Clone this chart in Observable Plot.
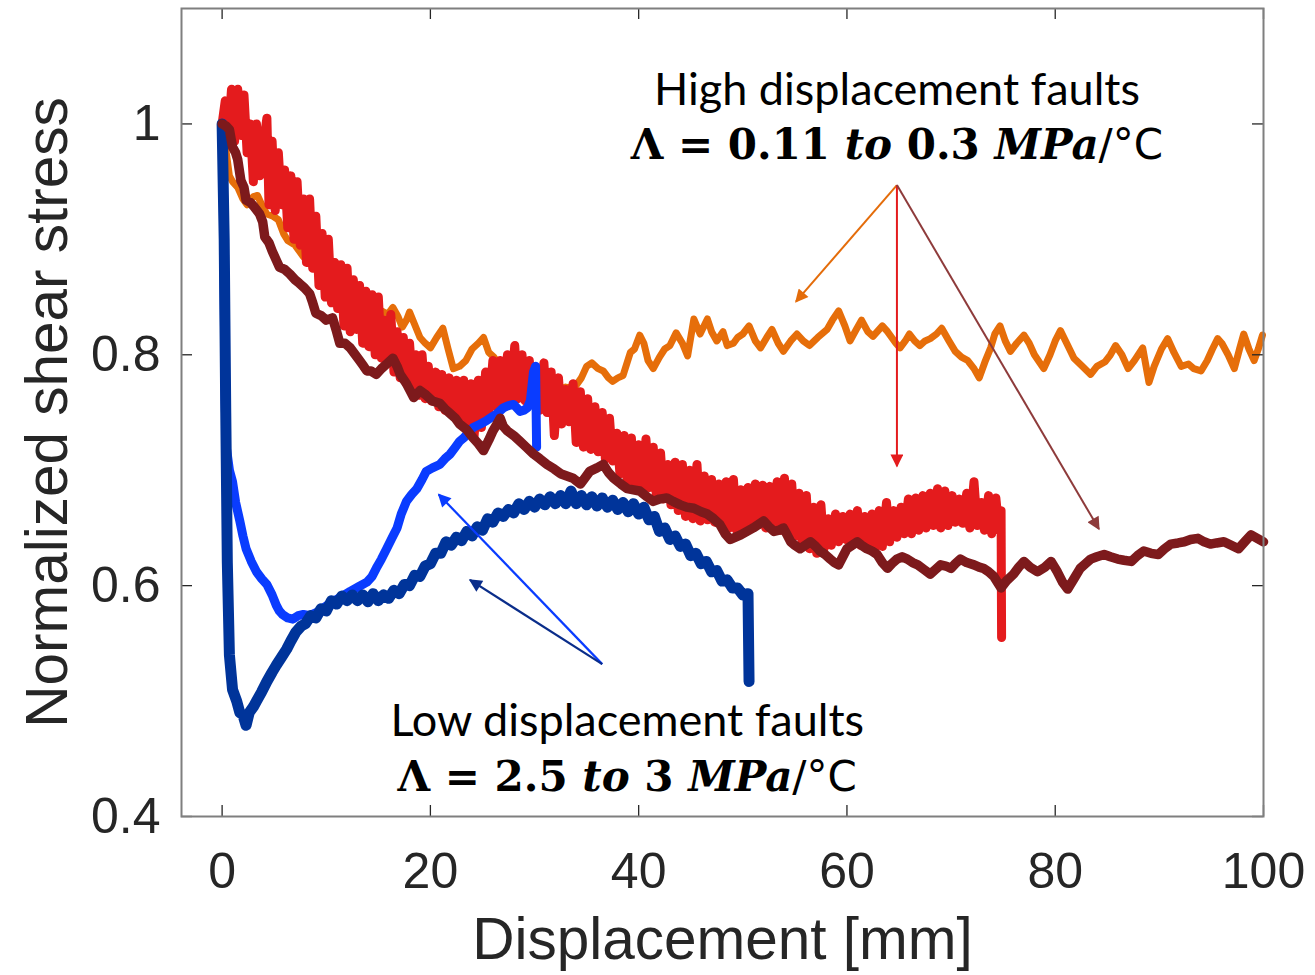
<!DOCTYPE html>
<html>
<head>
<meta charset="utf-8">
<script src="https://cdn.jsdelivr.net/npm/d3@7"></script>
<script src="https://cdn.jsdelivr.net/npm/@observablehq/plot@0.6"></script>
<style>
  html, body { margin: 0; padding: 0; background: #ffffff; }
  #chart svg { display: block; }
</style>
</head>
<body>
<div id="chart"></div>
<script>
// ---------- axis ticks ----------
const xTicks = [0, 20, 40, 60, 80, 100];
const yTicks = [0.4, 0.6, 0.8, 1];

// ---------- series (displacement mm, normalized shear stress) ----------
const orangeSeries = [
[0,1.0],[0.4,0.975],[0.7,0.955],[1.0,0.95],[1.5,0.945],[2.0,0.935],[2.4,0.93],[3.0,0.937],[3.4,0.938],[3.9,0.928],[4.3,0.922],[4.9,0.92],[5.4,0.917],[5.9,0.905],[6.3,0.899],[7.0,0.895],[7.8,0.885],[8.5,0.88],[9.3,0.875],[10.0,0.87],[10.8,0.867],[11.5,0.862],[12.2,0.86],[12.9,0.858],[13.5,0.852],[14.2,0.845],[14.8,0.84],[15.3,0.838],[15.9,0.835],[16.4,0.841],[16.9,0.833],[17.3,0.824],[17.7,0.83],[18.0,0.837],[18.5,0.826],[19.0,0.815],[19.5,0.81],[20.0,0.806],[20.6,0.815],[21.2,0.823],[21.7,0.805],[22.2,0.788],[22.8,0.79],[23.4,0.795],[24.0,0.805],[24.6,0.81],[25.1,0.815],[25.6,0.802],[26.1,0.798],[26.7,0.79],[27.4,0.78],[28.1,0.777],[28.9,0.775],[29.6,0.778],[30.3,0.781],[31.0,0.776],[31.6,0.772],[32.2,0.769],[33.0,0.772],[33.8,0.771],[34.5,0.78],[35.0,0.79],[35.5,0.793],[36.1,0.788],[36.6,0.786],[37.1,0.78],[37.5,0.777],[38.0,0.78],[38.5,0.782],[39.2,0.802],[39.6,0.805],[40.1,0.817],[40.5,0.81],[40.9,0.795],[41.4,0.788],[42.0,0.798],[42.5,0.805],[43.0,0.808],[43.6,0.819],[44.2,0.81],[44.7,0.799],[45.3,0.831],[45.9,0.818],[46.6,0.831],[47.0,0.82],[47.5,0.812],[48.1,0.82],[48.5,0.808],[49.1,0.81],[49.5,0.815],[50.0,0.818],[50.6,0.825],[51.2,0.812],[51.7,0.806],[52.3,0.815],[52.8,0.822],[53.4,0.81],[53.9,0.803],[54.6,0.812],[55.2,0.818],[55.8,0.812],[56.4,0.808],[57.2,0.815],[58.1,0.822],[58.6,0.83],[59.2,0.838],[59.8,0.825],[60.3,0.812],[60.9,0.822],[61.4,0.83],[62.0,0.82],[62.5,0.816],[63.4,0.825],[63.9,0.82],[64.3,0.815],[64.7,0.81],[65.1,0.806],[65.6,0.812],[66.0,0.818],[66.5,0.812],[67.0,0.808],[67.5,0.812],[68.0,0.814],[68.6,0.818],[69.1,0.823],[69.8,0.812],[70.4,0.803],[71.0,0.798],[71.6,0.795],[72.2,0.788],[72.7,0.78],[73.3,0.795],[73.8,0.806],[74.2,0.818],[74.7,0.825],[75.2,0.812],[75.7,0.803],[76.3,0.81],[77.0,0.817],[77.5,0.81],[78.0,0.8],[78.9,0.788],[79.5,0.8],[80.0,0.812],[80.5,0.821],[81.1,0.81],[81.8,0.797],[82.6,0.79],[83.4,0.783],[84.0,0.79],[84.8,0.794],[85.3,0.8],[85.8,0.808],[86.4,0.8],[87.0,0.788],[87.6,0.795],[88.4,0.806],[89.0,0.776],[89.5,0.79],[90.2,0.805],[90.8,0.814],[91.4,0.802],[92.1,0.79],[92.8,0.792],[93.3,0.788],[94.0,0.786],[94.6,0.795],[95.1,0.805],[95.6,0.814],[96.0,0.81],[96.6,0.8],[97.2,0.788],[97.7,0.805],[98.1,0.818],[98.6,0.805],[99.1,0.795],[99.5,0.805],[99.9,0.817]
];

const redSeries = [
[0,1.0],[0.3,1.02],[0.6,0.99],[0.9,1.03],[1.2,0.985],[1.5,1.03],[1.8,0.99],[2.1,1.025],[2.4,0.975],[2.7,1.0],[3.0,0.95],[3.3,1.0],[3.6,0.955],[4.0,0.985],[4.3,1.005],[4.5,0.93],[4.8,0.985],[5.1,0.925],[5.4,0.975],[5.7,0.93],[6.0,0.96],[6.3,0.91],[6.6,0.955],[6.9,0.9],[7.2,0.95],[7.5,0.895],[7.8,0.935],[8.1,0.88],[8.4,0.935],[8.7,0.875],[9.0,0.92],[9.3,0.86],[9.6,0.905],[9.9,0.85],[10.2,0.9],[10.5,0.845],[10.8,0.88],[11.1,0.84],[11.4,0.878],[11.7,0.825],[12.0,0.875],[12.3,0.82],[12.6,0.865],[12.9,0.822],[13.2,0.86],[13.5,0.81],[13.8,0.855],[14.1,0.807],[14.4,0.852],[14.7,0.8],[15.0,0.85],[15.3,0.797],[15.6,0.83],[15.9,0.795],[16.2,0.835],[16.5,0.785],[16.8,0.82],[17.1,0.78],[17.4,0.815],[17.7,0.775],[18.0,0.81],[18.3,0.772],[18.6,0.8],[18.9,0.765],[19.2,0.8],[19.5,0.762],[19.8,0.79],[20.1,0.76],[20.5,0.785],[20.8,0.755],[21.1,0.783],[21.4,0.752],[21.8,0.78],[22.1,0.748],[22.5,0.778],[22.8,0.742],[23.2,0.778],[23.5,0.735],[23.9,0.775],[24.2,0.73],[24.6,0.778],[24.9,0.737],[25.3,0.785],[25.6,0.75],[26.0,0.795],[26.3,0.755],[26.7,0.795],[27.0,0.758],[27.4,0.8],[27.7,0.76],[28.1,0.808],[28.4,0.762],[28.8,0.8],[29.1,0.76],[29.5,0.795],[29.8,0.757],[30.2,0.787],[30.5,0.752],[30.9,0.793],[31.2,0.75],[31.6,0.785],[31.9,0.73],[32.3,0.78],[32.6,0.74],[33.0,0.77],[33.3,0.742],[33.7,0.775],[34.0,0.724],[34.4,0.768],[34.7,0.72],[35.1,0.762],[35.4,0.718],[35.8,0.755],[36.1,0.716],[36.5,0.75],[36.8,0.71],[37.2,0.745],[37.5,0.708],[37.9,0.732],[38.2,0.697],[38.6,0.73],[38.9,0.69],[39.3,0.728],[39.6,0.685],[40.0,0.722],[40.3,0.683],[40.7,0.727],[41.0,0.685],[41.4,0.72],[41.7,0.677],[42.1,0.715],[42.4,0.675],[42.8,0.705],[43.1,0.67],[43.5,0.707],[43.8,0.665],[44.2,0.705],[44.5,0.66],[44.9,0.7],[45.2,0.658],[45.6,0.705],[45.9,0.656],[46.3,0.695],[46.6,0.657],[47.0,0.692],[47.3,0.655],[47.7,0.688],[48.0,0.652],[48.4,0.69],[48.7,0.65],[49.1,0.692],[49.4,0.648],[49.8,0.683],[50.1,0.65],[50.5,0.685],[50.8,0.652],[51.2,0.688],[51.5,0.653],[51.9,0.687],[52.2,0.65],[52.6,0.686],[52.9,0.648],[53.3,0.69],[53.6,0.648],[54.0,0.693],[54.3,0.645],[54.7,0.688],[55.0,0.643],[55.4,0.68],[55.7,0.635],[56.1,0.678],[56.4,0.632],[56.8,0.668],[57.1,0.628],[57.5,0.67],[57.8,0.632],[58.2,0.658],[58.5,0.635],[58.9,0.662],[59.2,0.638],[59.6,0.66],[59.9,0.64],[60.3,0.662],[60.6,0.636],[61.0,0.665],[61.3,0.635],[61.7,0.66],[62.0,0.633],[62.4,0.662],[62.7,0.632],[63.1,0.665],[63.4,0.634],[63.8,0.672],[64.1,0.638],[64.5,0.665],[64.8,0.642],[65.2,0.668],[65.5,0.645],[65.9,0.675],[66.2,0.645],[66.6,0.676],[66.9,0.648],[67.3,0.678],[67.6,0.65],[68.0,0.68],[68.3,0.652],[68.7,0.684],[69.0,0.65],[69.4,0.682],[69.7,0.652],[70.1,0.678],[70.4,0.655],[70.8,0.675],[71.1,0.654],[71.5,0.68],[71.8,0.65],[72.2,0.69],[72.5,0.652],[72.9,0.672],[73.2,0.648],[73.6,0.678],[73.9,0.645],[74.3,0.676],[74.6,0.648],[74.8,0.665],[74.85,0.555]
];

const brownSeries = [
[0,1.0],[0.4,0.998],[0.7,0.995],[1.0,0.98],[1.3,0.975],[1.5,0.969],[1.8,0.951],[2.1,0.945],[2.3,0.934],[2.7,0.932],[3.1,0.928],[3.6,0.922],[3.9,0.915],[4.1,0.902],[4.5,0.897],[4.8,0.89],[5.2,0.882],[5.5,0.876],[6.0,0.874],[6.5,0.87],[7.0,0.865],[7.4,0.862],[7.9,0.858],[8.4,0.853],[8.7,0.845],[9.0,0.836],[9.5,0.834],[10.0,0.83],[10.6,0.832],[11.0,0.82],[11.3,0.81],[11.8,0.81],[12.3,0.806],[12.8,0.8],[13.2,0.795],[13.6,0.79],[13.9,0.786],[14.3,0.786],[14.8,0.783],[15.3,0.788],[15.8,0.792],[16.4,0.797],[16.8,0.79],[17.1,0.783],[17.7,0.775],[18.4,0.763],[19.0,0.769],[19.6,0.765],[20.2,0.76],[20.9,0.758],[21.4,0.753],[21.9,0.749],[22.4,0.745],[22.8,0.74],[23.5,0.735],[24.1,0.728],[24.6,0.723],[25.1,0.717],[25.6,0.726],[26.0,0.734],[26.4,0.74],[26.7,0.745],[27.0,0.738],[27.4,0.734],[28.0,0.73],[28.6,0.725],[29.2,0.72],[29.9,0.714],[30.5,0.71],[31.2,0.705],[31.9,0.701],[32.5,0.697],[33.1,0.695],[33.7,0.693],[34.4,0.688],[34.9,0.694],[35.3,0.699],[36.0,0.702],[36.6,0.705],[37.1,0.698],[37.6,0.693],[38.3,0.688],[38.9,0.684],[39.5,0.683],[40.1,0.682],[40.8,0.677],[41.4,0.673],[42.0,0.675],[42.7,0.676],[43.3,0.673],[44.0,0.67],[44.6,0.668],[45.3,0.667],[46.0,0.664],[46.6,0.662],[47.2,0.658],[47.8,0.653],[48.3,0.645],[48.8,0.64],[49.3,0.642],[49.8,0.644],[50.4,0.647],[51.0,0.65],[51.5,0.653],[52.0,0.656],[52.5,0.651],[53.0,0.647],[53.5,0.648],[53.9,0.65],[54.2,0.645],[54.6,0.638],[55.0,0.635],[55.5,0.632],[56.0,0.635],[56.5,0.638],[57.0,0.634],[57.4,0.63],[57.9,0.627],[58.4,0.623],[58.8,0.62],[59.2,0.618],[59.6,0.625],[60.0,0.632],[60.5,0.635],[61.0,0.638],[61.4,0.635],[61.9,0.632],[62.4,0.63],[62.9,0.627],[63.4,0.62],[63.9,0.615],[64.3,0.619],[64.8,0.623],[65.3,0.625],[65.8,0.623],[66.3,0.62],[66.8,0.618],[67.4,0.614],[68.0,0.61],[68.5,0.614],[69.0,0.618],[69.5,0.617],[70.0,0.615],[70.4,0.619],[70.9,0.623],[71.5,0.62],[72.2,0.618],[72.7,0.616],[73.1,0.615],[73.6,0.612],[74.1,0.608],[74.8,0.598],[75.3,0.604],[76.0,0.61],[76.5,0.616],[77.0,0.621],[77.6,0.616],[78.3,0.612],[79.0,0.616],[79.6,0.621],[80.2,0.612],[80.7,0.603],[81.2,0.597],[81.8,0.606],[82.4,0.615],[82.9,0.619],[83.4,0.623],[84.0,0.625],[84.7,0.627],[85.3,0.625],[86.0,0.623],[86.6,0.622],[87.3,0.621],[87.9,0.626],[88.5,0.63],[89.2,0.628],[89.9,0.627],[90.5,0.632],[91.1,0.636],[91.8,0.637],[92.4,0.638],[93.0,0.64],[93.7,0.641],[94.3,0.638],[94.9,0.636],[95.5,0.637],[96.2,0.638],[96.9,0.635],[97.6,0.632],[98.2,0.638],[98.8,0.644],[99.4,0.641],[100,0.638]
];

const brightBlueSeries = [
[0,1.0],[0.1,0.95],[0.2,0.85],[0.3,0.76],[0.4,0.72],[0.7,0.7],[1.0,0.69],[1.3,0.672],[1.7,0.656],[2.0,0.643],[2.3,0.632],[2.8,0.621],[3.3,0.612],[3.8,0.606],[4.3,0.601],[4.8,0.592],[5.2,0.583],[5.5,0.578],[5.8,0.575],[6.3,0.572],[6.8,0.571],[7.3,0.574],[7.8,0.575],[8.4,0.574],[9.1,0.577],[9.8,0.581],[10.6,0.586],[11.4,0.59],[12.3,0.595],[13.1,0.599],[13.9,0.603],[14.4,0.608],[14.8,0.615],[15.3,0.623],[15.8,0.632],[16.3,0.641],[16.8,0.65],[17.2,0.662],[17.7,0.673],[18.2,0.679],[18.7,0.684],[19.2,0.692],[19.6,0.699],[20.2,0.702],[20.9,0.705],[21.4,0.71],[21.9,0.714],[22.4,0.72],[22.8,0.725],[23.2,0.728],[23.7,0.733],[24.1,0.737],[24.8,0.74],[25.4,0.743],[25.9,0.746],[26.4,0.749],[27.0,0.754],[27.5,0.756],[28.0,0.757],[28.6,0.751],[29.0,0.752],[29.3,0.754],[29.6,0.76],[29.9,0.785],[30.1,0.79],[30.2,0.72]
];

const darkBlueSeries = [
[0,1.0],[0.2,0.9],[0.35,0.75],[0.5,0.62],[0.7,0.54],[1.0,0.51],[1.4,0.5],[1.7,0.49],[2.0,0.488],[2.3,0.479],[2.6,0.49],[3.0,0.495],[3.3,0.5],[3.8,0.508],[4.3,0.517],[4.8,0.525],[5.2,0.531],[5.7,0.538],[6.2,0.545],[6.6,0.552],[7.1,0.56],[7.6,0.565],[8.0,0.567],[8.5,0.574],[9.0,0.572],[9.5,0.58],[10.0,0.578],[10.5,0.587],[11.0,0.584],[11.5,0.591],[12.0,0.587],[12.5,0.592],[13.0,0.587],[13.5,0.592],[14.0,0.586],[14.5,0.593],[15.0,0.587],[15.5,0.592],[16.0,0.589],[16.5,0.596],[17.0,0.593],[17.5,0.601],[18.0,0.6],[18.5,0.609],[19.0,0.608],[19.5,0.617],[20.0,0.619],[20.5,0.628],[21.0,0.628],[21.5,0.638],[22.0,0.635],[22.5,0.642],[23.0,0.639],[23.5,0.647],[24.0,0.643],[24.5,0.651],[25.0,0.648],[25.5,0.658],[26.0,0.655],[26.5,0.663],[27.0,0.66],[27.5,0.666],[28.0,0.663],[28.5,0.671],[29.0,0.666],[29.5,0.673],[30.0,0.668],[30.5,0.675],[31.0,0.67],[31.5,0.677],[32.0,0.671],[32.5,0.678],[33.0,0.671],[33.5,0.682],[34.0,0.671],[34.5,0.678],[35.0,0.67],[35.5,0.677],[36.0,0.669],[36.5,0.676],[37.0,0.668],[37.5,0.674],[38.0,0.666],[38.5,0.672],[39.0,0.664],[39.5,0.671],[40.0,0.662],[40.5,0.668],[41.0,0.657],[41.5,0.66],[42.0,0.647],[42.5,0.65],[43.0,0.64],[43.5,0.643],[44.0,0.634],[44.5,0.636],[45.0,0.626],[45.5,0.628],[46.0,0.619],[46.5,0.621],[47.0,0.612],[47.5,0.613],[48.0,0.604],[48.5,0.605],[49.0,0.598],[49.5,0.598],[50.0,0.592],[50.5,0.593],[50.6,0.517]
];

// ---------- annotations ----------
const highLabel = "High displacement faults";
const highMath  = "Λ = 0.11 to 0.3 MPa/°C";
const lowLabel  = "Low displacement faults";
const lowMath   = "Λ = 2.5 to 3 MPa/°C";
const labelX    = [64.8, 38.9];
const labelY    = [1.029, 0.482];
const mathY     = [0.9815, 0.4337];

// arrows: [x1, y1, x2, y2]
const highArrows = [[64.8, 0.947, 55.1, 0.846], [64.8, 0.947, 64.8, 0.7035], [64.8, 0.947, 84.2, 0.649]];
const lowArrows  = [[36.5, 0.532, 20.8, 0.679], [36.5, 0.532, 23.8, 0.605]];

// ---------- styles ----------
const C = {
  orange: "#E66E0A", red: "#E41B1D", brown: "#7D1A1C",
  brightBlue: "#0A3CFF", darkBlue: "#00349A",
  arrowOrange: "#E46C0A", arrowRed: "#E41B1D", arrowBrown: "#8E3B3B",
  arrowBright: "#0A3CFF", arrowDark: "#0A2D8A",
  axis: "#262626", frame: "#7f7f7f"
};
const highArrowColors = [C.arrowOrange, C.arrowRed, C.arrowBrown];
const lowArrowColors = [C.arrowBright, C.arrowDark];

const W = 1315, H = 975, mL = 181, mR = 52, mT = 8, mB = 159;
const frameW = W - mL - mR, frameH = H - mT - mB, tickLen = 11;

const lineOpts = (color, w) => ({
  x: d => d[0], y: d => d[1], stroke: color, strokeWidth: w,
  strokeLinejoin: "round", strokeLinecap: "round"
});

const arrowMarks = [];
highArrows.forEach((a, i) => arrowMarks.push(Plot.link([a], {
  x1: d => d[0], y1: d => d[1], x2: d => d[2], y2: d => d[3],
  stroke: highArrowColors[i], strokeWidth: 2
})));
lowArrows.forEach((a, i) => arrowMarks.push(Plot.link([a], {
  x1: d => d[0], y1: d => d[1], x2: d => d[2], y2: d => d[3],
  stroke: lowArrowColors[i], strokeWidth: 2.2
})));

const chart = Plot.plot({
  width: W, height: H,
  marginLeft: mL, marginRight: mR, marginTop: mT, marginBottom: mB,
  style: { background: "#ffffff", fontFamily: "Liberation Sans, Arial, sans-serif" },
  x: { domain: [-3.9, 100] },
  y: { domain: [0.4, 1.1] },
  marks: [
    Plot.line(orangeSeries, lineOpts(C.orange, 7)),
    Plot.line(redSeries, lineOpts(C.red, 9)),
    Plot.line(brightBlueSeries, lineOpts(C.brightBlue, 9)),
    Plot.line(darkBlueSeries, lineOpts(C.darkBlue, 11)),
    Plot.line(brownSeries, lineOpts(C.brown, 9.5)),
    ...arrowMarks,
    Plot.text([highLabel, lowLabel], {
      x: (d, i) => labelX[i], y: (d, i) => labelY[i], text: d => d,
      fontFamily: "Lato, Open Sans, sans-serif", fontSize: 45, fill: "#000"
    }),
    Plot.text([highMath, lowMath], {
      x: (d, i) => labelX[i], y: (d, i) => mathY[i], text: d => d,
      fontFamily: "DejaVu Serif, serif", fontSize: 42, fontWeight: "bold", fill: "#000"
    }),
    // inward ticks (box style)
    Plot.tickX(xTicks, { x: d => d, stroke: C.axis, strokeWidth: 1.3, insetTop: frameH - tickLen }),
    Plot.tickX(xTicks, { x: d => d, stroke: C.axis, strokeWidth: 1.3, insetBottom: frameH - tickLen }),
    Plot.tickY(yTicks, { y: d => d, stroke: C.axis, strokeWidth: 1.3, insetRight: frameW - tickLen }),
    Plot.tickY(yTicks, { y: d => d, stroke: C.axis, strokeWidth: 1.3, insetLeft: frameW - tickLen }),
    Plot.frame({ stroke: C.frame, strokeWidth: 2 }),
    Plot.axisX({ ticks: xTicks, tickSize: 0, tickPadding: 36, fontSize: 50, color: C.axis, label: null, tickFormat: d => String(d) }),
    Plot.axisY({ ticks: yTicks, tickSize: 0, tickPadding: 21, fontSize: 50, color: C.axis, label: null, tickFormat: d => String(d) }),
    Plot.text(["Displacement [mm]"], { frameAnchor: "bottom", lineAnchor: "middle", dy: 124, fontSize: 58.5, fill: C.axis, text: d => d }),
    Plot.text(["Normalized shear stress"], { frameAnchor: "left", textAnchor: "middle", lineAnchor: "middle", dx: -133, rotate: -90, fontSize: 58.5, fill: C.axis, text: d => d })
  ]
});

document.getElementById("chart").appendChild(chart);

// ---------- post-process: filled arrowheads & math styling ----------
(function () {
  const svg = d3.select(chart);
  const defs = svg.insert("defs", ":first-child");
  svg.selectAll('g[aria-label="link"]').each(function (d, i) {
    const g = d3.select(this);
    const color = g.attr("stroke");
    const id = "ah" + i;
    defs.append("marker")
      .attr("id", id).attr("viewBox", "0 0 10 10")
      .attr("refX", 9).attr("refY", 5)
      .attr("markerUnits", "userSpaceOnUse")
      .attr("markerWidth", 16).attr("markerHeight", 13)
      .attr("orient", "auto")
      .append("path").attr("d", "M0,0 L10,5 L0,10 z").attr("fill", color).attr("stroke", "none");
    g.selectAll("path").attr("marker-end", `url(#${id})`);
  });
  svg.selectAll("text").each(function () {
    const t = d3.select(this);
    const s = this.textContent;
    if (!s.startsWith("Λ")) return;
    t.text(null);
    const parts = s.split(/(to|MPa|\/°C)/).filter(p => p.length);
    parts.forEach(p => {
      const ts = t.append("tspan").text(p);
      if (p === "to" || p === "MPa") ts.attr("font-style", "italic");
      if (p === "/°C") ts.attr("font-weight", "normal").attr("font-family", "DejaVu Sans, sans-serif");
    });
  });
})();
</script>
</body>
</html>
